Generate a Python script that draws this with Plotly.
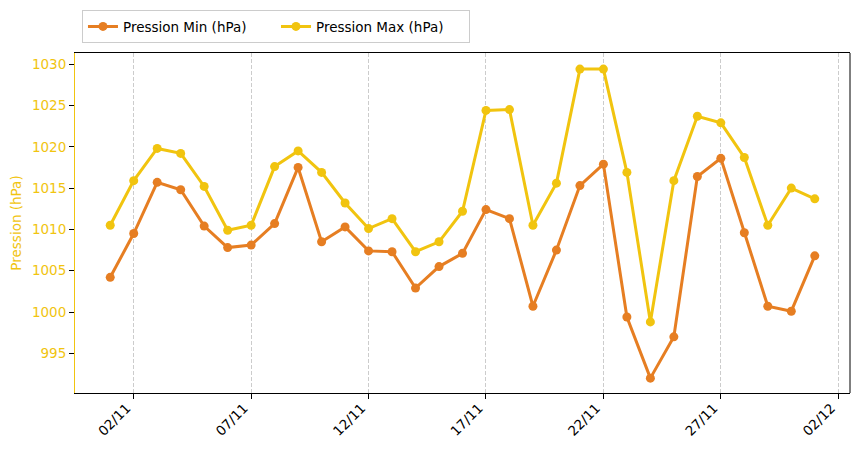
import pandas as pd
import plotly.graph_objects as go

# daily pressure, 01/11 -> 01/12
dates = pd.date_range("2024-11-01", "2024-12-01", freq="D")
p_min = [1004.2, 1009.5, 1015.7, 1014.8, 1010.4, 1007.8, 1008.1, 1010.7, 1017.5, 1008.5,
         1010.3, 1007.4, 1007.3, 1002.9, 1005.5, 1007.1, 1012.4, 1011.3, 1000.7, 1007.5,
         1015.3, 1017.9, 999.4, 992.0, 997.0, 1016.4, 1018.6, 1009.6, 1000.7, 1000.1,
         1006.8]
p_max = [1010.5, 1015.9, 1019.8, 1019.2, 1015.2, 1009.9, 1010.5, 1017.6, 1019.5, 1016.9,
         1013.2, 1010.1, 1011.3, 1007.3, 1008.5, 1012.2, 1024.4, 1024.5, 1010.5, 1015.6,
         1029.4, 1029.4, 1016.9, 998.8, 1015.9, 1023.7, 1022.9, 1018.7, 1010.5, 1015.0,
         1013.7]
tick_dates = pd.date_range("2024-11-02", "2024-12-02", freq="5D")
tick_labels = [d.strftime("%d/%m") for d in tick_dates]
y_ticks = [995, 1000, 1005, 1010, 1015, 1020, 1025, 1030]

ORANGE = "#e67e22"
YELLOW = "#f1c40f"

fig = go.Figure()
fig.add_trace(go.Scatter(x=dates, y=p_min, mode="lines+markers", name="Pression Min (hPa)",
                         line=dict(color=ORANGE, width=3), marker=dict(size=9, color=ORANGE)))
fig.add_trace(go.Scatter(x=dates, y=p_max, mode="lines+markers", name="Pression Max (hPa)",
                         line=dict(color=YELLOW, width=3), marker=dict(size=9, color=YELLOW)))

# page body has ~8px margin, so margins are shifted to compensate
fig.update_layout(
    width=859, height=451,
    margin=dict(l=67, r=17, t=45, b=66, autoexpand=False),
    plot_bgcolor="white", paper_bgcolor="white",
    font=dict(family="DejaVu Sans", size=13.5, color="black"),
    showlegend=True,
    legend=dict(orientation="h", x=0.009, y=1.126, xanchor="left", yanchor="top",
                bordercolor="#cccccc", borderwidth=1, font=dict(size=13.5),
                entrywidth=148, itemwidth=30),
    xaxis=dict(type="date", range=["2024-10-30 12:00", "2024-12-02 12:00"],
               tickvals=tick_dates, ticktext=tick_labels, tickangle=-45,
               ticklabelshift=-7, ticklabelstandoff=-4,
               showgrid=True, gridcolor="#cccccc", griddash="4px,2px", gridwidth=1,
               showline=True, linecolor="black", linewidth=1, mirror=True,
               ticks="outside", ticklen=5, tickcolor="black", zeroline=False,
               automargin=False),
    yaxis=dict(range=[990.2, 1031.35], tickvals=y_ticks,
               title=dict(text="Pression (hPa)", font=dict(color=YELLOW, size=13.5), standoff=8),
               tickfont=dict(color=YELLOW), showgrid=False,
               showline=True, linecolor=YELLOW, linewidth=1,
               ticks="outside", ticklen=5, tickcolor="black", zeroline=False,
               automargin=False),
)
# right spine in black
fig.add_shape(type="line", xref="paper", yref="paper", x0=1, x1=1, y0=0, y1=1,
              line=dict(color="black", width=1))

fig.write_html("out.html")
